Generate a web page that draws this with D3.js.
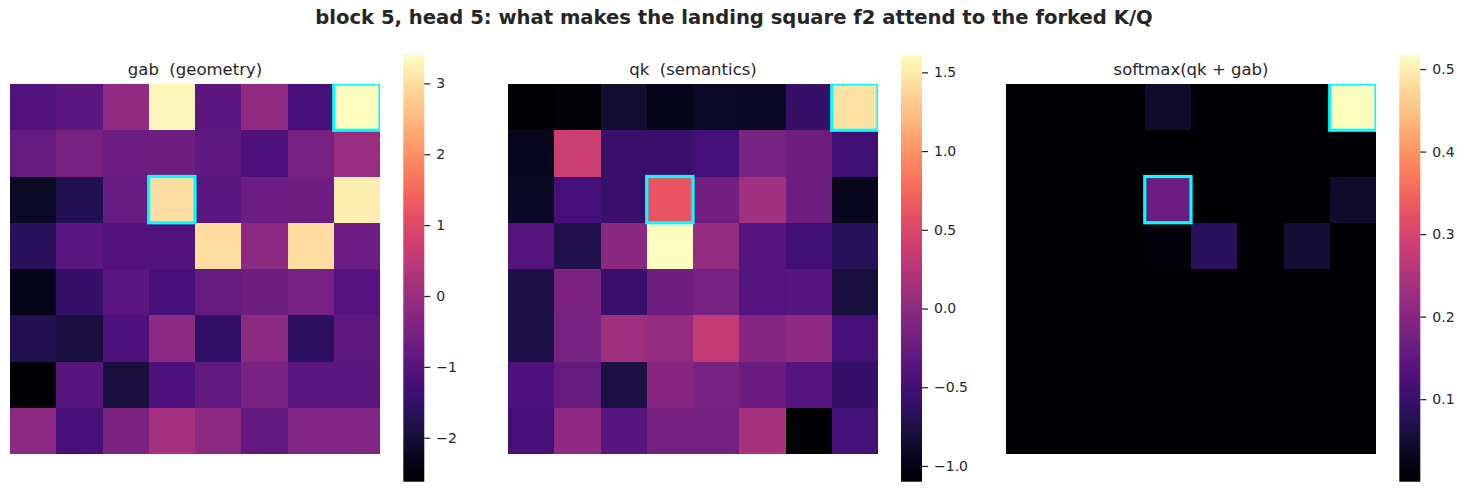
<!DOCTYPE html>
<html>
<head>
<meta charset="utf-8">
<script src="https://cdn.jsdelivr.net/npm/d3@7"></script>
<style>
  html, body { margin: 0; padding: 0; background: #fff; }
  text { font-family: "DejaVu Sans", sans-serif; fill: #262626; white-space: pre; }
</style>
</head>
<body>
<svg id="chart" width="1468" height="491"></svg>
<script>
const suptitle = "block 5, head 5: what makes the landing square f2 attend to the forked K/Q";
const panelTitles = ["gab  (geometry)", "qk  (semantics)", "softmax(qk + gab)"];

const gab = [
  [-1.10, -0.95, -0.15, 3.30, -0.95, -0.15, -1.25, 3.40],
  [-0.80, -0.55, -0.70, -0.65, -0.90, -1.15, -0.55, -0.05],
  [-2.20, -1.75, -0.75, 3.00, -0.95, -0.70, -0.65, 3.20],
  [-1.65, -0.95, -1.10, -1.10, 2.98, -0.20, 3.00, -0.70],
  [-2.35, -1.50, -0.95, -1.25, -0.80, -0.65, -0.55, -1.05],
  [-1.75, -1.95, -1.15, -0.20, -1.55, -0.20, -1.60, -0.90],
  [-2.62, -1.00, -1.95, -1.15, -0.85, -0.50, -0.95, -0.95],
  [-0.20, -1.25, -0.45, 0.15, -0.20, -0.85, -0.40, -0.40]
];

const qk = [
  [-1.10, -1.07, -0.85, -0.97, -0.90, -0.93, -0.60, 1.45],
  [-0.95, 0.40, -0.58, -0.58, -0.50, -0.15, -0.22, -0.52],
  [-0.93, -0.48, -0.58, 0.62, -0.20, 0.12, -0.22, -0.95],
  [-0.40, -0.72, -0.03, 1.61, 0.03, -0.40, -0.52, -0.68],
  [-0.75, -0.12, -0.58, -0.22, -0.17, -0.40, -0.38, -0.80],
  [-0.75, -0.15, 0.10, 0.05, 0.33, -0.08, 0.00, -0.48],
  [-0.45, -0.28, -0.78, -0.05, -0.15, -0.25, -0.40, -0.60],
  [-0.48, 0.00, -0.38, -0.18, -0.18, 0.15, -1.09, -0.50]
];

const attn = [
  [0.001, 0.001, 0.001, 0.044, 0.001, 0.001, 0.001, 0.517],
  [0.001, 0.001, 0.001, 0.001, 0.001, 0.001, 0.001, 0.001],
  [0.001, 0.001, 0.001, 0.165, 0.001, 0.001, 0.001, 0.044],
  [0.001, 0.001, 0.001, 0.009, 0.083, 0.001, 0.052, 0.001],
  [0.000, 0.001, 0.001, 0.001, 0.001, 0.001, 0.001, 0.001],
  [0.001, 0.001, 0.001, 0.001, 0.001, 0.001, 0.001, 0.001],
  [0.001, 0.001, 0.001, 0.001, 0.001, 0.001, 0.001, 0.001],
  [0.001, 0.001, 0.001, 0.001, 0.001, 0.001, 0.001, 0.001]
];

const highlights = [[0, 7], [2, 3]];

const gabTicks = [-2, -1, 0, 1, 2, 3];
const qkTicks = [-1.0, -0.5, 0.0, 0.5, 1.0, 1.5];
const attnTicks = [0.1, 0.2, 0.3, 0.4, 0.5];

const panels = [
  { data: gab, ticks: gabTicks, fmt: d3.format("d"), x0: 10, cb: 403.3 },
  { data: qk, ticks: qkTicks, fmt: d3.format(".1f"), x0: 508, cb: 901 },
  { data: attn, ticks: attnTicks, fmt: d3.format(".1f"), x0: 1006, cb: 1399.3 }
];

const svg = d3.select("#chart");
svg.append("rect").attr("width", 1468).attr("height", 491).attr("fill", "#fff");

svg.append("text")
  .attr("x", 734).attr("y", 24)
  .attr("text-anchor", "middle")
  .style("font-weight", "bold").style("font-size", "19.6px")
  .text(suptitle);

const hmTop = 84, hmSize = 370;
const cbTop = 55, cbBot = 481.7, cbW = 21;
const defs = svg.append("defs");
const idx = d3.range(8);

panels.forEach((p, pi) => {
  const flat = p.data.flat();
  const ext = d3.extent(flat);
  const color = d3.scaleSequential(d3.interpolateMagma).domain(ext);
  const x = d3.scaleBand().domain(idx).range([p.x0, p.x0 + hmSize]);
  const y = d3.scaleBand().domain(idx).range([hmTop, hmTop + hmSize]);

  const clipId = "clip" + pi;
  defs.append("clipPath").attr("id", clipId)
    .append("rect").attr("x", p.x0).attr("y", hmTop).attr("width", hmSize).attr("height", hmSize);

  const g = svg.append("g").attr("clip-path", `url(#${clipId})`);
  const cells = [];
  p.data.forEach((row, r) => row.forEach((v, c) => cells.push({ r, c, v })));
  g.selectAll("rect.cell").data(cells).join("rect")
    .attr("class", "cell")
    .attr("x", d => x(d.c)).attr("y", d => y(d.r))
    .attr("width", x.bandwidth() + 0.6).attr("height", y.bandwidth() + 0.6)
    .attr("fill", d => color(d.v))
    .attr("shape-rendering", "crispEdges");

  svg.append("g").attr("clip-path", `url(#${clipId})`)
    .selectAll("rect").data(highlights).join("rect")
    .attr("x", d => x(d[1])).attr("y", d => y(d[0]))
    .attr("width", x.bandwidth()).attr("height", y.bandwidth())
    .attr("fill", "none").attr("stroke", "#00ffff").attr("stroke-width", 3.2);

  svg.append("text")
    .attr("x", p.x0 + hmSize / 2).attr("y", 75)
    .attr("text-anchor", "middle").style("font-size", "16.5px")
    .attr("xml:space", "preserve")
    .text(panelTitles[pi]);

  const gid = "grad" + pi;
  const grad = defs.append("linearGradient").attr("id", gid)
    .attr("x1", 0).attr("y1", 1).attr("x2", 0).attr("y2", 0);
  d3.range(0, 1.0001, 0.02).forEach(t => {
    grad.append("stop").attr("offset", t).attr("stop-color", d3.interpolateMagma(t));
  });
  svg.append("rect").attr("x", p.cb).attr("y", cbTop)
    .attr("width", cbW).attr("height", cbBot - cbTop)
    .attr("fill", `url(#${gid})`);

  const cs = d3.scaleLinear().domain(ext).range([cbBot, cbTop]);
  const ax = svg.append("g").attr("transform", `translate(${p.cb + cbW},0)`)
    .call(d3.axisRight(cs).tickValues(p.ticks).tickFormat(p.fmt).tickSize(6).tickPadding(6));
  ax.select(".domain").remove();
  ax.selectAll(".tick line").attr("stroke", "#262626").attr("stroke-width", 1.25);
  ax.selectAll(".tick text").style("font-size", "14px").attr("fill", "#262626")
    .style("font-family", "'DejaVu Sans', sans-serif");
});
</script>
</body>
</html>
